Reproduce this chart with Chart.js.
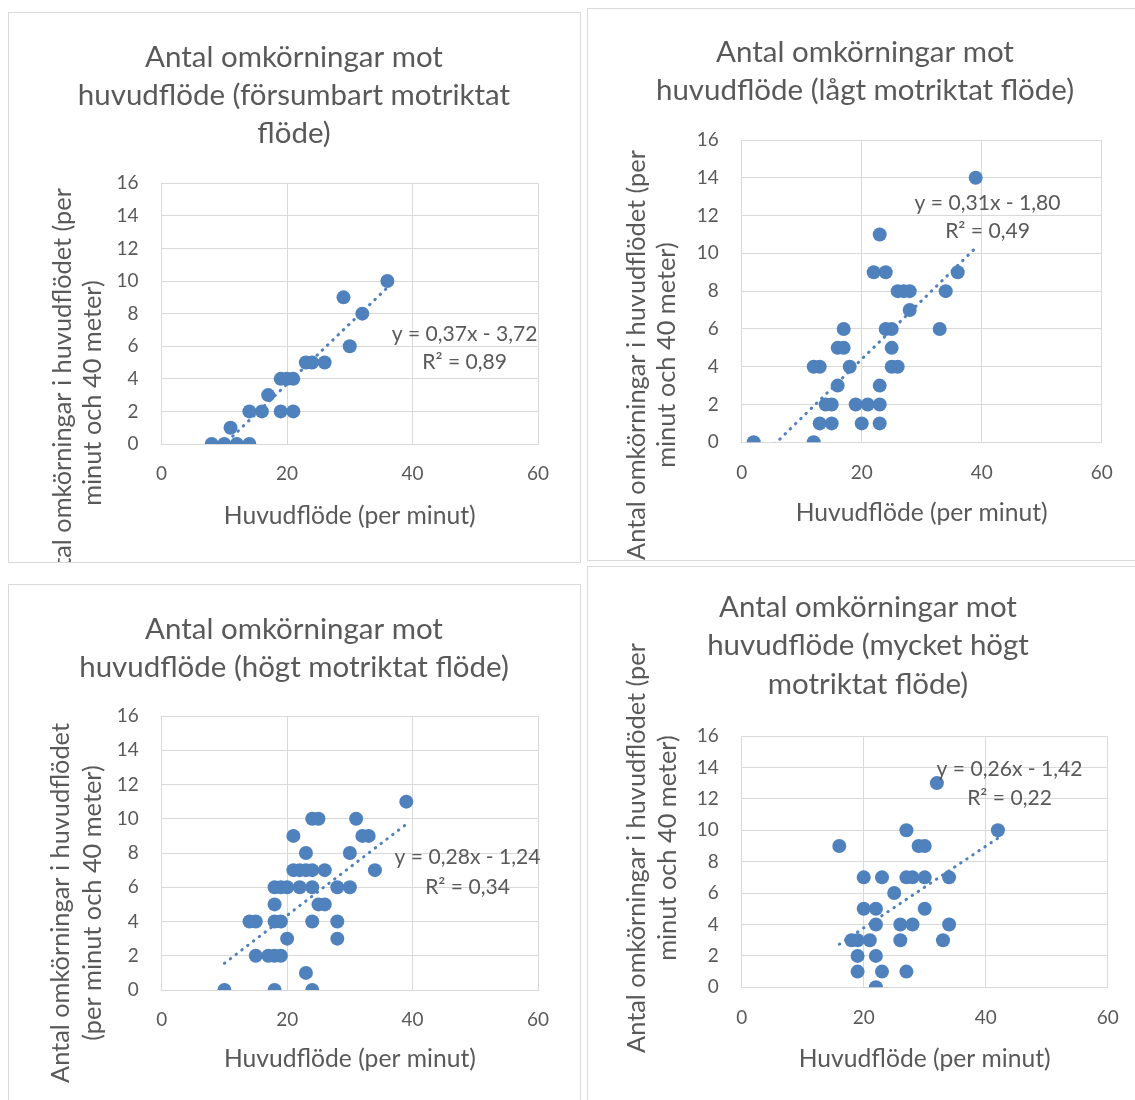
<!DOCTYPE html>
<html>
<head>
<meta charset="utf-8">
<script src="https://cdn.jsdelivr.net/npm/chart.js@4.4.1/dist/chart.umd.min.js"></script>
<style>
html, body { margin: 0; padding: 0; background: #fff; overflow: hidden; }
body { width: 1135px; height: 1100px; position: relative; }
.panel { position: absolute; overflow: hidden; background: #fff; }
.panel canvas { position: absolute; left: 0; top: 0; }
.frame { position: absolute; left: 0; top: 0; right: 0; bottom: 0; border: 1px solid #d9d9d9; box-sizing: border-box; pointer-events: none; }
</style>
</head>
<body>
<script>
// values
// x = Huvudflöde (per minut), y = Antal omkörningar

// försumbart motriktat flöde
const flow1 = [8, 10, 12, 14, 11, 14, 16, 19, 21, 17, 19, 20, 21, 23, 24, 26, 30, 32, 29, 36];
const pass1 = [0, 0, 0, 0, 1, 2, 2, 2, 2, 3, 4, 4, 4, 5, 5, 5, 6, 8, 9, 10];

// lågt motriktat flöde
const flow2 = [2, 12, 13, 15, 20, 23, 14, 15, 19, 21, 23, 16, 23, 12, 13, 18, 25, 26, 16, 17, 25,
               17, 24, 25, 33, 28, 26, 27, 28, 34, 22, 24, 36, 23, 39];
const pass2 = [0, 0, 1, 1, 1, 1, 2, 2, 2, 2, 2, 3, 3, 4, 4, 4, 4, 4, 5, 5, 5,
               6, 6, 6, 6, 7, 8, 8, 8, 8, 9, 9, 9, 11, 14];

// högt motriktat flöde
const flow3 = [10, 18, 24, 23, 15, 17, 18, 19, 20, 28, 14, 15, 18, 19, 24, 28, 18, 25, 26,
               18, 19, 20, 22, 24, 28, 30, 21, 22, 23, 24, 26, 34, 23, 30, 21, 32, 33, 24, 25, 31, 39];
const pass3 = [0, 0, 0, 1, 2, 2, 2, 2, 3, 3, 4, 4, 4, 4, 4, 4, 5, 5, 5,
               6, 6, 6, 6, 6, 6, 6, 7, 7, 7, 7, 7, 7, 8, 8, 9, 9, 9, 10, 10, 10, 11];

// mycket högt motriktat flöde
const flow4 = [22, 19, 23, 27, 19, 22, 18, 19, 21, 26, 33, 22, 26, 28, 34, 20, 22, 30, 25,
               20, 23, 27, 28, 30, 34, 16, 29, 30, 27, 42, 32];
const pass4 = [0, 1, 1, 1, 2, 2, 3, 3, 3, 3, 3, 4, 4, 4, 4, 5, 5, 5, 6,
               7, 7, 7, 7, 7, 7, 9, 9, 9, 10, 10, 13];

// linear trendlines as printed on the charts: [slope, intercept]
const fit1 = [0.37, -3.72];
const fit2 = [0.31, -1.80];
const fit3 = [0.28, -1.24];
const fit4 = [0.26, -1.42];
const r2 = [0.89, 0.49, 0.34, 0.22];

const title1 = ['Antal omkörningar mot', 'huvudflöde (försumbart motriktat', 'flöde)'];
const title2 = ['Antal omkörningar mot', 'huvudflöde (lågt motriktat flöde)'];
const title3 = ['Antal omkörningar mot', 'huvudflöde (högt motriktat flöde)'];
const title4 = ['Antal omkörningar mot', 'huvudflöde (mycket högt', 'motriktat flöde)'];
const yTitleA = ['Antal omkörningar i huvudflödet (per', 'minut och 40 meter)'];
const yTitleB = ['Antal omkörningar i huvudflödet', '(per minut och 40 meter)'];
const xTitle = 'Huvudflöde (per minut)';
const xRange = [0, 60, 20];   // min, max, step
const yRange = [0, 16, 2];

const BLUE = '#4f81bd';
const TEXT = '#595959';
const GRID = '#d9d9d9';
const FAMILY = 'Lato';

// Calibri is not installed, so size the substitute font by the widths seen in the picture
const meas = document.createElement('canvas').getContext('2d');
function fitSize(text, width) {
  meas.font = '100px ' + FAMILY;
  return 100 * width / meas.measureText(text).width;
}
const titleSize = fitSize('Antal omkörningar mot', 298);
const axisSize = fitSize(xTitle, 252);
const yTitleSize = fitSize(yTitleA[0], 410);
const tickSize = fitSize('20', 22);
const eqSize = fitSize('y = 0,37x - 3,72', 146);

// page positions (px) of each panel frame and its plot area
const panels = [
  { flow: flow1, pass: pass1, fit: fit1, r2: r2[0], title: title1, yTitle: yTitleA,
    box: [8, 12, 573, 551], plot: [161.5, 183.3, 538, 444],
    titleX: 294, titleBase: [66.7, 105, 143], yTitleX: [63, 93], yTitleY: 393,
    xTitleY: 516, eqX: 464.6, eqY: [334, 362] },
  { flow: flow2, pass: pass2, fit: fit2, r2: r2[1], title: title2, yTitle: yTitleA,
    box: [587, 8, 556, 553], plot: [741.7, 140, 1101.7, 442.3],
    titleX: 865, titleBase: [61.7, 100.4], yTitleX: [636.7, 667.3], yTitleY: 355,
    xTitleY: 513, eqX: 987.5, eqY: [203, 231.5] },
  { flow: flow3, pass: pass3, fit: fit3, r2: r2[2], title: title3, yTitle: yTitleB,
    box: [8, 584, 573, 530], plot: [161.7, 716, 538, 990],
    titleX: 294, titleBase: [638.5, 676.8], yTitleX: [61, 93], yTitleY: 903,
    xTitleY: 1059, eqX: 467.5, eqY: [857, 887] },
  { flow: flow4, pass: pass4, fit: fit4, r2: r2[3], title: title4, yTitle: yTitleA,
    box: [587, 566, 562, 550], plot: [741.7, 736, 1107.7, 987.3],
    titleX: 868, titleBase: [617, 655.3, 693.6], yTitleX: [637, 668], yTitleY: 848,
    xTitleY: 1059, eqX: 1009.5, eqY: [769, 798] }
];

function num(v) {
  return v.toFixed(2).replace('.', ',');
}

function makeChart(p) {
  const [L, T, W, H] = p.box;
  const div = document.createElement('div');
  div.className = 'panel';
  div.style.left = L + 'px';
  div.style.top = T + 'px';
  div.style.width = W + 'px';
  div.style.height = H + 'px';
  const canvas = document.createElement('canvas');
  canvas.width = W;
  canvas.height = H;
  div.appendChild(canvas);
  const frame = document.createElement('div');
  frame.className = 'frame';
  div.appendChild(frame);
  document.body.appendChild(div);

  const yw = 60, xh = 60;
  const left = p.plot[0] - L, top = p.plot[1] - T, right = p.plot[2] - L, bottom = p.plot[3] - T;

  const points = p.flow.map((x, i) => ({x: x, y: p.pass[i]}));
  const x0 = Math.min(...p.flow), x1 = Math.max(...p.flow);
  const trend = [x0, x1].map(x => ({x: x, y: p.fit[0] * x + p.fit[1]}));

  const eqText = ['y = ' + num(p.fit[0]) + 'x ' + (p.fit[1] < 0 ? '- ' : '+ ') + num(Math.abs(p.fit[1])),
                  'R² = ' + num(p.r2)];

  // titles, axis titles and the trendline label
  const textPlugin = {
    id: 'panelText',
    afterDraw(chart) {
      const ctx = chart.ctx;
      ctx.save();
      ctx.fillStyle = TEXT;
      ctx.textAlign = 'center';

      ctx.font = titleSize + 'px ' + FAMILY;
      ctx.textBaseline = 'alphabetic';
      p.title.forEach((line, i) => ctx.fillText(line, p.titleX - L, p.titleBase[i] - T));

      ctx.textBaseline = 'middle';
      ctx.font = axisSize + 'px ' + FAMILY;
      const area = chart.chartArea;
      ctx.fillText(xTitle, (area.left + area.right) / 2, p.xTitleY - T);

      ctx.font = eqSize + 'px ' + FAMILY;
      eqText.forEach((line, i) => ctx.fillText(line, p.eqX - L, p.eqY[i] - T));

      ctx.font = yTitleSize + 'px ' + FAMILY;
      p.yTitle.forEach((line, i) => {
        ctx.save();
        ctx.translate(p.yTitleX[i] - L, p.yTitleY - T);
        ctx.rotate(-Math.PI / 2);
        ctx.fillText(line, 0, 0);
        ctx.restore();
      });
      ctx.restore();
    }
  };

  return new Chart(canvas, {
    type: 'scatter',
    data: {
      datasets: [
        {
          data: points,
          order: 1,
          pointRadius: 7,
          pointHoverRadius: 7,
          backgroundColor: BLUE,
          borderColor: BLUE,
          borderWidth: 0
        },
        {
          data: trend,
          order: 0,
          showLine: true,
          pointRadius: 0,
          borderColor: BLUE,
          borderWidth: 3,
          borderDash: [0.5, 6.8],
          borderCapStyle: 'round',
          fill: false
        }
      ]
    },
    options: {
      responsive: false,
      animation: false,
      events: [],
      layout: {
        padding: {left: left - yw, top: top, right: W - right, bottom: H - bottom - xh}
      },
      plugins: {
        legend: {display: false},
        tooltip: {enabled: false}
      },
      scales: {
        x: {
          type: 'linear',
          min: xRange[0],
          max: xRange[1],
          ticks: {stepSize: xRange[2], padding: 19, color: TEXT, font: {family: FAMILY, size: tickSize}},
          grid: {color: GRID, lineWidth: 1, drawTicks: false},
          border: {color: GRID, width: 1},
          afterFit: s => { s.height = xh; }
        },
        y: {
          type: 'linear',
          min: yRange[0],
          max: yRange[1],
          ticks: {stepSize: yRange[2], padding: 23, color: TEXT, font: {family: FAMILY, size: tickSize}},
          grid: {color: GRID, lineWidth: 1, drawTicks: false},
          border: {color: GRID, width: 1},
          afterFit: s => { s.width = yw; }
        }
      }
    },
    plugins: [textPlugin]
  });
}

panels.forEach(makeChart);
</script>
</body>
</html>
